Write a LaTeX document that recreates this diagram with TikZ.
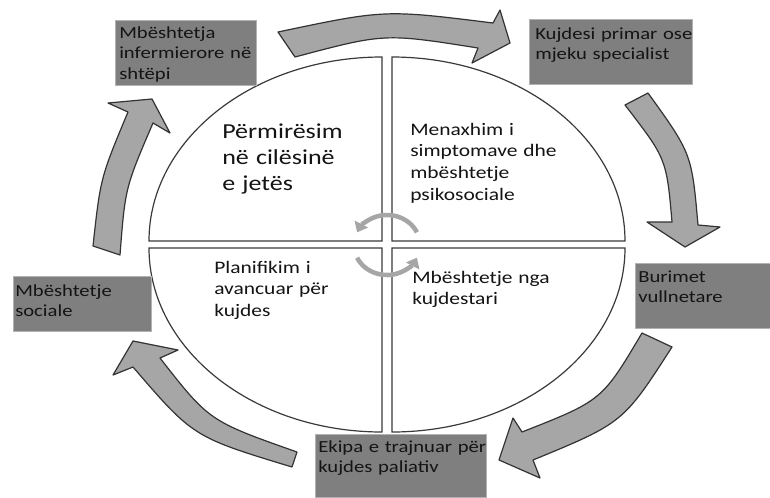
\documentclass[tikz,border=0pt]{standalone}
\usepackage{fontspec}
\setmainfont{Carlito}[FakeStretch=1.22]
\usetikzlibrary{arrows.meta,fit}

\definecolor{boxgray}{HTML}{7F7F7F}
\definecolor{arrowgray}{HTML}{A6A6A6}
\definecolor{edgegray}{HTML}{3A3A3A}
\definecolor{inktext}{HTML}{141414}

\tikzset{
	quarter/.style={draw=edgegray, fill=white, line width=0.9pt},
	bigarrow/.style={draw=black!80, fill=arrowgray, line width=0.9pt, line join=round},
	infobox/.style={draw=black!30, fill=boxgray, inner sep=0pt, line width=0.6pt},
	boxtext/.style={anchor=base west, inner sep=0pt, text width=150pt, align=left,
		text=inktext, font=\fontsize{12.7}{15.4}\selectfont},
	bigtext/.style={anchor=base west, inner sep=0pt, text width=150pt, align=left,
		text=inktext, font=\fontsize{16}{19.5}\selectfont},
	midtext/.style={anchor=base west, inner sep=0pt, text width=150pt, align=left,
		text=inktext, font=\fontsize{13.2}{16.4}\selectfont},
	turn/.style={draw=arrowgray, line width=3.4pt, -{Triangle[width=11pt,length=7pt]}}
}

\begin{document}
\begin{tikzpicture}[x=0.75pt,y=-0.75pt]
\useasboundingbox (0,0) rectangle (770,497);

% quarters of the ellipse
\draw[quarter] (382,241) -- (149,241) arc[start angle=180, end angle=270, x radius=233, y radius=184] -- cycle;
\draw[quarter] (392,241) -- (392,57) arc[start angle=270, end angle=360, x radius=233, y radius=184] -- cycle;
\draw[quarter] (392,248) -- (625,248) arc[start angle=0, end angle=90, x radius=233, y radius=184] -- cycle;
\draw[quarter] (382,248) -- (382,432) arc[start angle=90, end angle=180, x radius=233, y radius=184] -- cycle;

% labels in the quarters
\node[bigtext] (q1) at (222,138) {Përmirësim\\në cilësinë\\e jetës};
\node[midtext] (q2) at (410,135) {Menaxhim i\\simptomave dhe\\mbështetje\\psikosociale};
\node[midtext] (q3) at (214,273) {Planifikim i\\avancuar për\\kujdes};
\node[midtext] (q4) at (412,283) {Mbështetje nga\\kujdestari};

% turning arrows in the middle
\draw[turn] (387,245) ++(-25:33 and 30) arc[start angle=-25, end angle=-155, x radius=33, y radius=30];
\draw[turn] (387,245) ++(155:33 and 30) arc[start angle=155, end angle=25, x radius=33, y radius=30];

% big arrows round the ellipse
\draw[bigarrow] (278,32) .. controls (384.8,9.5) .. (493,23) -- (500,10) -- (510,43)
	-- (472,63) -- (478,48) .. controls (384.5,33.2) .. (295,57) -- cycle;
\draw[bigarrow] (648,93) .. controls (691.7,153.7) .. (698,225) -- (720,227) -- (685,247)
	-- (647,222) -- (672,222) .. controls (666.5,158.8) .. (625,105) -- cycle;
\draw[bigarrow] (672,347) .. controls (623.2,422.8) .. (533,460) -- (540,478) -- (499,460)
	-- (513,418) -- (522,432) .. controls (602,400.5) .. (642,333) -- cycle;
\draw[bigarrow] (297,452) .. controls (209.2,421) .. (160,358) -- (178,350) -- (133,341)
	-- (113,375) -- (133,367) .. controls (193.2,437) .. (292,467) -- cycle;
\draw[bigarrow] (93,246) .. controls (100.5,177.7) .. (128,112) -- (108,103) -- (152,99)
	-- (170,133) -- (153,123) .. controls (125.2,187.7) .. (120,255) -- cycle;

% boxes
\node[infobox, fit={(115,20) (256,85)}] (b1) {};
\node[infobox, fit={(529,19) (692,84)}] (b2) {};
\node[infobox, fit={(635,263) (770,328)}] (b3) {};
\node[infobox, fit={(315,434) (486,497)}] (b4) {};
\node[infobox, fit={(13,276) (151,331)}] (b5) {};

% box labels
\node[boxtext] (t1) at (119,38) {Mbështetja\\infermierore në\\shtëpi};
\node[boxtext] (t2) at (535,39) {Kujdesi primar ose\\mjeku specialist};
\node[boxtext] (t3) at (638,282) {Burimet\\vullnetare};
\node[boxtext] (t4) at (318,452) {Ekipa e trajnuar për\\kujdes paliativ};
\node[boxtext] (t5) at (15,296) {Mbështetje\\sociale};

\end{tikzpicture}
\end{document}
